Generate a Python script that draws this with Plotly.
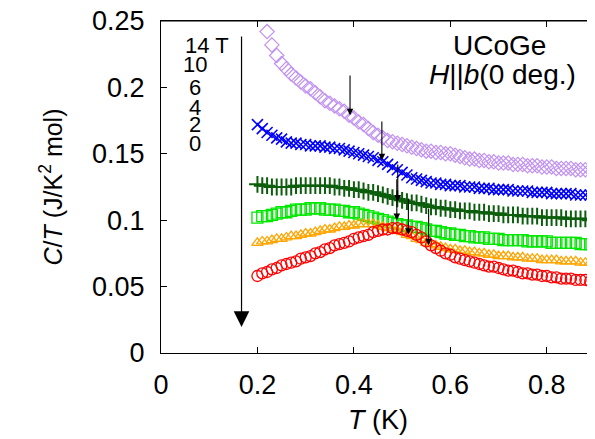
import plotly.graph_objects as go

# temperature grid (K)
T = [0.20, 0.21, 0.22, 0.23, 0.24, 0.25, 0.26, 0.27, 0.28, 0.29,
     0.30, 0.31, 0.32, 0.33, 0.34, 0.35, 0.36, 0.37, 0.38, 0.39,
     0.40, 0.41, 0.42, 0.43, 0.44, 0.45, 0.46, 0.47, 0.48, 0.49,
     0.50, 0.51, 0.52, 0.53, 0.54, 0.55, 0.56, 0.57, 0.58, 0.59,
     0.60, 0.61, 0.62, 0.63, 0.64, 0.65, 0.66, 0.67, 0.68, 0.69,
     0.70, 0.71, 0.72, 0.73, 0.74, 0.75, 0.76, 0.77, 0.78, 0.79,
     0.80, 0.81, 0.82, 0.83, 0.84, 0.85, 0.86, 0.87, 0.88, 0.89]

# C/T (J/K^2 mol) for each field
ct_0T = [0.058, 0.060, 0.061, 0.063, 0.064, 0.066, 0.067, 0.068, 0.069, 0.071,
         0.072, 0.073, 0.075, 0.076, 0.078, 0.079, 0.081, 0.082, 0.083, 0.084,
         0.086, 0.087, 0.088, 0.089, 0.091, 0.092, 0.093, 0.093, 0.094, 0.094,
         0.093, 0.092, 0.091, 0.089, 0.087, 0.084, 0.081, 0.079, 0.077, 0.075,
         0.074, 0.072, 0.071, 0.070, 0.069, 0.068, 0.067, 0.066, 0.065, 0.065,
         0.064, 0.063, 0.062, 0.062, 0.061, 0.060, 0.060, 0.059, 0.059, 0.058,
         0.058, 0.057, 0.057, 0.056, 0.056, 0.056, 0.055, 0.055, 0.055, 0.054]

ct_2T = [0.083, 0.084, 0.084, 0.085, 0.086, 0.086, 0.087, 0.088, 0.088, 0.089,
         0.090, 0.090, 0.091, 0.092, 0.093, 0.093, 0.094, 0.095, 0.095, 0.096,
         0.096, 0.097, 0.097, 0.097, 0.097, 0.096, 0.095, 0.094, 0.093, 0.092,
         0.091, 0.089, 0.088, 0.086, 0.085, 0.083, 0.082, 0.081, 0.080, 0.079,
         0.078, 0.078, 0.077, 0.077, 0.076, 0.076, 0.075, 0.075, 0.074, 0.074,
         0.073, 0.073, 0.073, 0.072, 0.072, 0.072, 0.071, 0.071, 0.071, 0.070,
         0.070, 0.070, 0.070, 0.069, 0.069, 0.069, 0.069, 0.068, 0.068, 0.068]

ct_4T = [0.102, 0.103, 0.103, 0.104, 0.105, 0.106, 0.106, 0.107, 0.108, 0.108,
         0.108, 0.109, 0.109, 0.109, 0.108, 0.108, 0.108, 0.107, 0.107, 0.106,
         0.106, 0.105, 0.104, 0.103, 0.102, 0.101, 0.100, 0.099, 0.098, 0.097,
         0.096, 0.096, 0.095, 0.095, 0.094, 0.093, 0.092, 0.092, 0.091, 0.090,
         0.090, 0.089, 0.089, 0.088, 0.088, 0.087, 0.087, 0.087, 0.086, 0.086,
         0.086, 0.085, 0.085, 0.085, 0.085, 0.085, 0.084, 0.084, 0.084, 0.084,
         0.084, 0.083, 0.083, 0.083, 0.083, 0.083, 0.083, 0.082, 0.082, 0.082]

ct_6T = [0.127, 0.126, 0.126, 0.125, 0.125, 0.125, 0.125, 0.125, 0.126, 0.126,
         0.126, 0.126, 0.126, 0.126, 0.126, 0.126, 0.125, 0.125, 0.124, 0.124,
         0.123, 0.123, 0.122, 0.121, 0.121, 0.120, 0.119, 0.118, 0.117, 0.116,
         0.115, 0.114, 0.113, 0.113, 0.112, 0.111, 0.110, 0.110, 0.109, 0.109,
         0.108, 0.108, 0.107, 0.107, 0.107, 0.106, 0.106, 0.106, 0.105, 0.105,
         0.105, 0.104, 0.104, 0.104, 0.104, 0.103, 0.103, 0.103, 0.103, 0.102,
         0.102, 0.102, 0.102, 0.102, 0.101, 0.101, 0.101, 0.101, 0.101, 0.100]

ct_10T = [0.172, 0.169, 0.166, 0.164, 0.162, 0.161, 0.159, 0.158, 0.158, 0.157,
          0.157, 0.156, 0.156, 0.156, 0.155, 0.155, 0.154, 0.154, 0.153, 0.152,
          0.151, 0.150, 0.149, 0.148, 0.147, 0.145, 0.144, 0.142, 0.140, 0.138,
          0.136, 0.134, 0.132, 0.131, 0.130, 0.129, 0.128, 0.128, 0.127, 0.127,
          0.126, 0.126, 0.126, 0.125, 0.125, 0.125, 0.124, 0.124, 0.124, 0.123,
          0.123, 0.123, 0.123, 0.122, 0.122, 0.122, 0.122, 0.121, 0.121, 0.121,
          0.121, 0.120, 0.120, 0.120, 0.120, 0.120, 0.119, 0.119, 0.119, 0.119]

# 14 T starts a bit later
T_14 = T[2:]
ct_14T = [0.242, 0.232, 0.224, 0.218, 0.214, 0.210, 0.207, 0.204,
          0.201, 0.199, 0.196, 0.193, 0.190, 0.188, 0.186, 0.184, 0.182, 0.179,
          0.177, 0.174, 0.172, 0.169, 0.166, 0.164, 0.162, 0.160, 0.159, 0.158,
          0.157, 0.156, 0.155, 0.154, 0.153, 0.152, 0.152, 0.151, 0.151, 0.150,
          0.150, 0.149, 0.148, 0.147, 0.146, 0.146, 0.145, 0.145, 0.144, 0.144,
          0.143, 0.143, 0.143, 0.142, 0.142, 0.142, 0.141, 0.141, 0.141, 0.140,
          0.140, 0.140, 0.139, 0.139, 0.139, 0.139, 0.138, 0.138, 0.138, 0.138]

field_labels = ["14 T", "10", "6", "4", "2", "0"]

# transition arrows: T position, tail, head
arrow_T = [0.392, 0.458, 0.491, 0.489, 0.513, 0.555]
arrow_top = [0.210, 0.1755, 0.143, 0.132, 0.1175, 0.110]
arrow_tip = [0.179, 0.145, 0.114, 0.100, 0.089, 0.081]

font = "Liberation Sans, Arial, sans-serif"

fig = go.Figure()

series = [
    (T_14, ct_14T, "diamond-open", "#c191f2", 11, 1.2),
    (T, ct_10T, "x-thin-open", "#0000ff", 11, 1.6),
    (T, ct_6T, "cross-thin-open", "#0b5e0b", 12, 2),
    (T, ct_4T, "square-open", "#00e800", 11, 1.3),
    (T, ct_2T, "triangle-up-open", "#ffa500", 10, 1.3),
    (T, ct_0T, "circle-open", "#ff0000", 11, 1.3),
]
for x, y, sym, col, sz, lw in series:
    fig.add_trace(go.Scatter(x=x, y=y, mode="markers",
                             marker=dict(symbol=sym, color=col, size=sz,
                                         line=dict(color=col, width=lw)),
                             showlegend=False))

# small arrows
for xa, y0, y1 in zip(arrow_T, arrow_top, arrow_tip):
    fig.add_annotation(x=xa, y=y1, ax=xa, ay=y0, xref="x", yref="y",
                       axref="x", ayref="y", text="", showarrow=True,
                       arrowhead=2, arrowsize=1.2, arrowwidth=1.1, arrowcolor="black")

# big field arrow
fig.add_annotation(x=0.167, y=0.0196, ax=0.167, ay=0.2395, xref="x", yref="y",
                   axref="x", ayref="y", text="", showarrow=True,
                   arrowhead=2, arrowsize=2.6, arrowwidth=1.2, arrowcolor="black")

# field labels
label_y = [0.2319, 0.2169, 0.2003, 0.1852, 0.1717, 0.1581]
for lab, yy in zip(field_labels, label_y):
    if lab == "14 T":
        fig.add_annotation(x=0.046, y=yy, xref="x", yref="y", text=lab,
                           showarrow=False, xanchor="left", yanchor="middle",
                           font=dict(family=font, size=22, color="black"))
    else:
        fig.add_annotation(x=0.070, y=yy, xref="x", yref="y", text=lab,
                           showarrow=False, xanchor="center", yanchor="middle",
                           font=dict(family=font, size=22, color="black"))

fig.add_annotation(x=(499 - 161) / 434, y=(353 - 45) / 332, xref="paper", yref="paper",
                   text="UCoGe", showarrow=False, xanchor="center", yanchor="middle",
                   font=dict(family=font, size=28, color="black"))
fig.add_annotation(x=(578 - 161) / 434, y=(353 - 74) / 332, xref="paper", yref="paper",
                   text="<i>H</i>||<i>b</i>(0 deg.)", showarrow=False,
                   xanchor="right", yanchor="middle",
                   font=dict(family=font, size=28, color="black"))

# top frame edge
fig.add_shape(type="line", xref="paper", yref="paper", x0=0, x1=1, y0=1, y1=1,
              line=dict(color="black", width=1))

axis_common = dict(showline=True, linecolor="black", linewidth=1, mirror="ticks",
                   ticks="inside", ticklen=6, tickcolor="black", showgrid=False,
                   zeroline=False, automargin=False, ticklabeloverflow="allow",
                   tickfont=dict(family=font, size=27, color="black"))

fig.update_xaxes(range=[0, 0.9], tickvals=[0, 0.2, 0.4, 0.6, 0.8],
                 ticktext=["0", "0.2", "0.4", "0.6", "0.8"],
                 title=dict(text="<i>T</i> (K)", font=dict(family=font, size=27, color="black"),
                            standoff=10),
                 ticklabelstandoff=8, **axis_common)
fig.update_yaxes(range=[0, 0.25], tickvals=[0, 0.05, 0.1, 0.15, 0.2, 0.25],
                 ticktext=["0", "0.05", "0.1", "0.15", "0.2", "0.25"],
                 title=dict(text="<i>C</i>/<i>T</i> (J/K<sup>2</sup> mol)",
                            font=dict(family=font, size=25, color="black"), standoff=22),
                 ticklabelstandoff=10, **axis_common)

# page body adds an 8 px offset, so the figure is 8 px smaller and margins shifted
fig.update_layout(width=587, height=431, margin=dict(l=153, r=0, t=13, b=86),
                  plot_bgcolor="white", paper_bgcolor="white",
                  font=dict(family=font, color="black"))

fig.write_html("out.html")
